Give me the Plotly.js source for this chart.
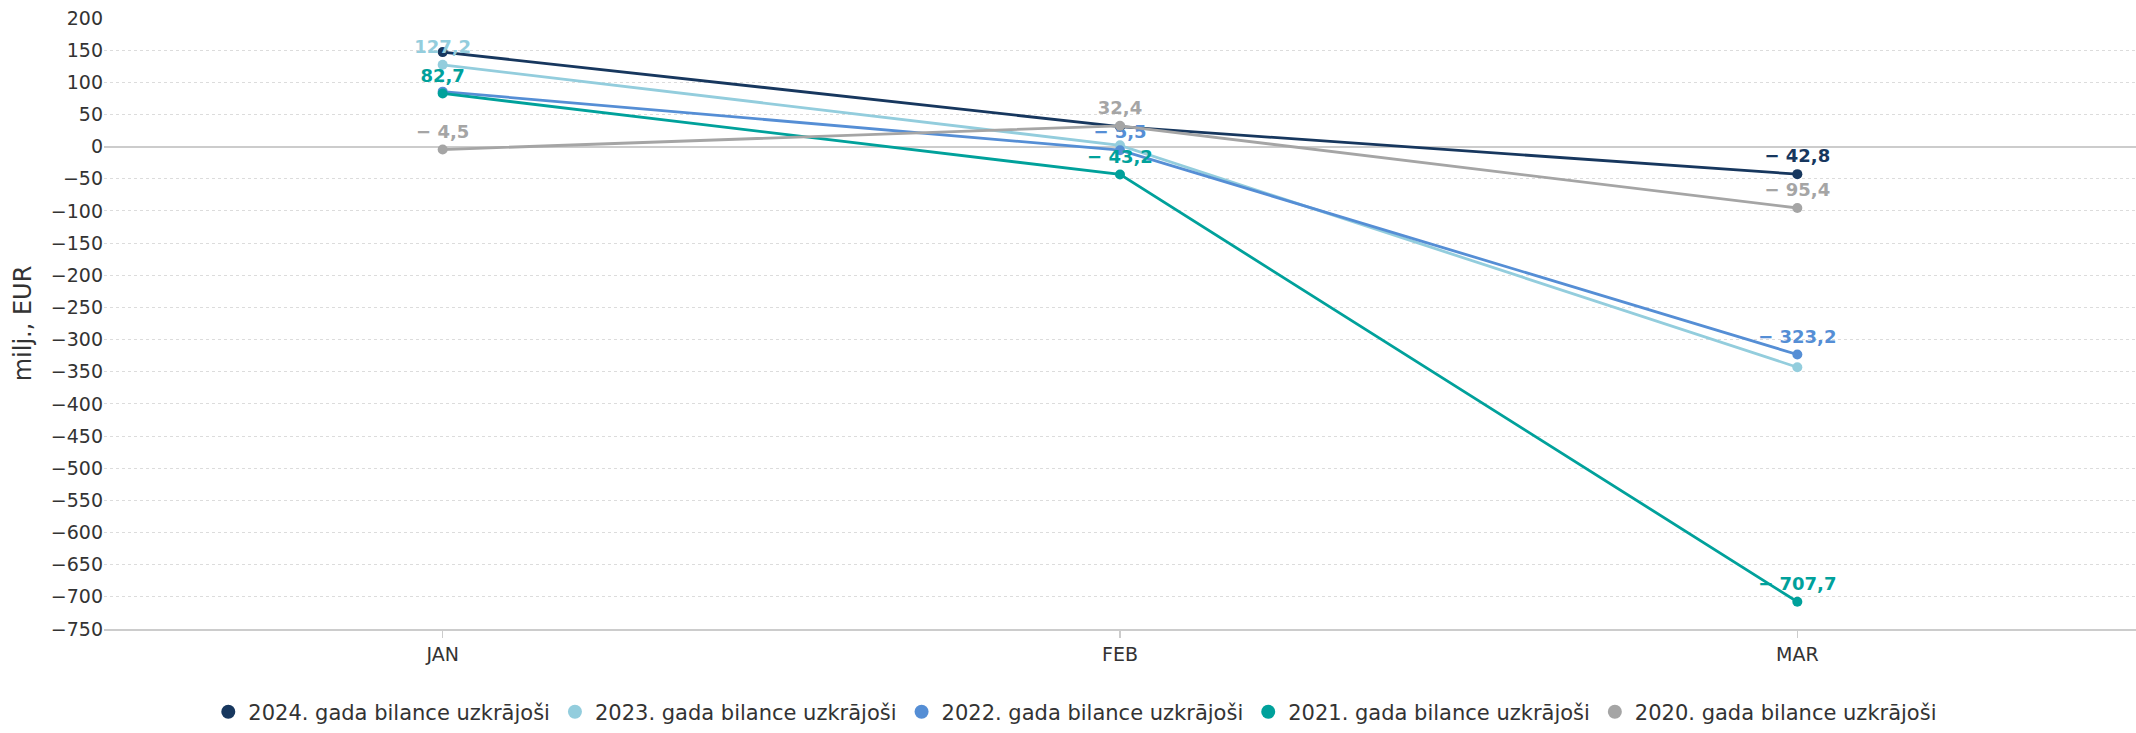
<!DOCTYPE html>
<html>
<head>
<meta charset="utf-8">
<script src="https://cdn.plot.ly/plotly-3.0.1.min.js"></script>
<style>
html,body{margin:0;padding:0;background:#fff;}
#chart{width:2136px;height:733px;}
</style>
</head>
<body>
<div id="chart"></div>
<script>
const months = ["JAN", "FEB", "MAR"];
const seriesNames = [
  "2024. gada bilance uzkrājoši",
  "2023. gada bilance uzkrājoši",
  "2022. gada bilance uzkrājoši",
  "2021. gada bilance uzkrājoši",
  "2020. gada bilance uzkrājoši"
];
const values2024 = [147.0, 31.0, -42.8];
const values2023 = [127.2, 2.0, -343.0];
const values2022 = [85.5, -5.5, -323.2];
const values2021 = [82.7, -43.2, -707.7];
const values2020 = [-4.5, 32.4, -95.4];
// which data labels remain visible (others hidden by overlap in the original)
const shown2024 = [false, false, true];
const shown2023 = [true, false, false];
const shown2022 = [false, true, true];
const shown2021 = [true, true, true];
const shown2020 = [true, true, true];

const seriesValues = [values2024, values2023, values2022, values2021, values2020];
const seriesShown = [shown2024, shown2023, shown2022, shown2021, shown2020];
const colors = ["#17375e", "#93cddd", "#558ed5", "#00a19b", "#a5a5a5"];

const FONT = "DejaVu Sans, Open Sans, sans-serif";

function fmt(v) {
  const s = Math.abs(v).toFixed(1).replace(".", ",");
  return v < 0 ? "\u2212 " + s : s;
}

const traces = [];
seriesValues.forEach((vals, i) => {
  traces.push({
    type: "scatter",
    mode: "lines+markers+text",
    x: months,
    y: vals,
    name: seriesNames[i],
    showlegend: false,
    legendgroup: "g" + i,
    line: {color: colors[i], width: 2.8},
    marker: {color: colors[i], size: 10},
    text: vals.map((v, j) => seriesShown[i][j] ? fmt(v) : ""),
    textposition: "top center",
    textfont: {family: FONT, size: 18, color: colors[i], weight: "bold"},
    cliponaxis: false,
    hoverinfo: "x+y+name"
  });
});
seriesNames.forEach((n, i) => {
  traces.push({
    type: "scatter",
    mode: "markers",
    x: [null],
    y: [null],
    name: n,
    legendgroup: "g" + i,
    marker: {color: colors[i], size: 14},
    showlegend: true
  });
});

const layout = {
  width: 2136,
  height: 733,
  margin: {l: 104, r: 0, t: 18, b: 96},
  paper_bgcolor: "#fff",
  plot_bgcolor: "#fff",
  font: {family: FONT, color: "#333", size: 19},
  showlegend: true,
  legend: {
    orientation: "h",
    x: 0.478, xanchor: "center",
    y: -0.136, yanchor: "middle",
    font: {family: FONT, size: 21, color: "#333"},
    itemclick: false
  },
  xaxis: {
    type: "category",
    range: [-0.5, 2.5],
    showgrid: false,
    showline: true,
    linecolor: "#ccc",
    linewidth: 2,
    ticks: "outside",
    ticklen: 7,
    tickcolor: "#ccc",
    tickwidth: 1.5,
    tickfont: {family: FONT, size: 19, color: "#333"},
    zeroline: false
  },
  yaxis: {
    range: [-750, 200],
    dtick: 50,
    tick0: 0,
    showgrid: true,
    gridcolor: "#dcdcdc",
    griddash: "dot",
    gridwidth: 1,
    zeroline: true,
    zerolinecolor: "#cccccc",
    zerolinewidth: 2,
    showline: false,
    ticks: "",
    tickfont: {family: FONT, size: 19, color: "#333"},
    title: {text: "milj., EUR", font: {family: FONT, size: 24, color: "#333"}, standoff: 12}
  }
};

Plotly.newPlot("chart", traces, layout, {displayModeBar: false, staticPlot: true});
</script>
</body>
</html>
